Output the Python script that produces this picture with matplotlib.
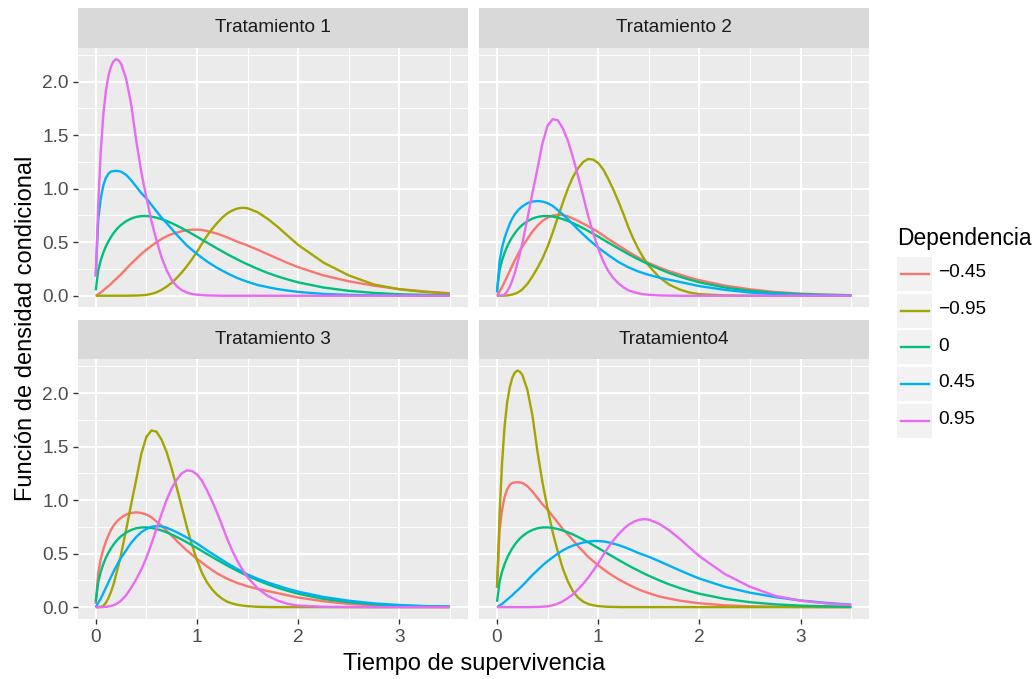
#!/usr/bin/env python3
"""
Densidades condicionales del tiempo de supervivencia por tratamiento y dependencia.
"""

import matplotlib
matplotlib.use('Agg')
import matplotlib.pyplot as plt
from matplotlib.patches import Rectangle
from matplotlib.lines import Line2D

plt.rcParams['font.family'] = ['Liberation Sans', 'DejaVu Sans']

# Tiempo comun a todas las curvas
tiempo = [0.0, 0.025, 0.05, 0.075, 0.1, 0.125, 0.15, 0.175, 0.2, 0.225, 0.25,
          0.3, 0.35, 0.4, 0.45, 0.5, 0.55, 0.6, 0.65, 0.7,
          0.75, 0.8, 0.85, 0.9, 0.95, 1.0, 1.05, 1.1, 1.15, 1.2, 1.25, 1.3, 1.35,
          1.4, 1.45, 1.5,
          1.6, 1.7, 1.8, 1.9, 2.0,
          2.25, 2.5, 2.75, 3.0, 3.25, 3.5]

# Dependencia 0 (igual en los cuatro tratamientos)
dep_0 = [0.05, 0.236, 0.332, 0.402, 0.46, 0.507, 0.548, 0.583, 0.614, 0.64, 0.662,
         0.697, 0.721, 0.737, 0.744, 0.745, 0.74, 0.73, 0.716, 0.699,
         0.679, 0.656, 0.632, 0.606, 0.579, 0.552, 0.524, 0.496, 0.469, 0.441,
         0.415, 0.388, 0.363, 0.339, 0.315, 0.293,
         0.251, 0.213, 0.18, 0.151, 0.125,
         0.077, 0.046, 0.026, 0.014, 0.008, 0.004]

# Tratamiento 1
t1_neg045 = [0.0, 0.015, 0.03, 0.05, 0.07, 0.09, 0.11, 0.135, 0.155, 0.178, 0.2,
             0.25, 0.3, 0.345, 0.39, 0.43, 0.465, 0.5, 0.53, 0.555,
             0.575, 0.59, 0.603, 0.612, 0.617, 0.618, 0.614, 0.605, 0.593, 0.58,
             0.563, 0.545, 0.525, 0.505, 0.488, 0.47,
             0.43, 0.388, 0.346, 0.305, 0.267,
             0.19, 0.135, 0.094, 0.062, 0.04, 0.023]
t1_neg095 = [0, 0, 0, 0, 0, 0, 0, 0, 0, 0, 0,
             0, 0.001, 0.002, 0.004, 0.008, 0.017, 0.032, 0.055, 0.085,
             0.12, 0.166, 0.217, 0.275, 0.34, 0.41, 0.487, 0.56, 0.625, 0.68,
             0.73, 0.77, 0.797, 0.815, 0.822, 0.818,
             0.78, 0.718, 0.642, 0.558, 0.475,
             0.31, 0.19, 0.105, 0.06, 0.035, 0.02]
t1_pos045 = [0.18, 0.71, 0.91, 1.03, 1.1, 1.14, 1.16, 1.165, 1.167, 1.165, 1.16,
             1.13, 1.08, 1.02, 0.96, 0.91, 0.85, 0.79, 0.73, 0.68,
             0.625, 0.57, 0.52, 0.47, 0.43, 0.39, 0.355, 0.32, 0.29, 0.26,
             0.235, 0.21, 0.187, 0.165, 0.147, 0.13,
             0.1, 0.08, 0.062, 0.048, 0.036,
             0.017, 0.008, 0.004, 0.002, 0.001, 0.0]
t1_pos095 = [0.18, 0.86, 1.35, 1.69, 1.91, 2.05, 2.14, 2.19, 2.21, 2.2, 2.17,
             2.03, 1.79, 1.45, 1.16, 0.92, 0.7, 0.52, 0.36, 0.24,
             0.148, 0.09, 0.052, 0.03, 0.017, 0.01, 0.006, 0.003, 0.002, 0.001,
             0, 0, 0, 0, 0, 0,
             0, 0, 0, 0, 0,
             0, 0, 0, 0, 0, 0]

# Tratamiento 2
t2_neg045 = [0.0, 0.04, 0.08, 0.13, 0.18, 0.23, 0.28, 0.33, 0.375, 0.42, 0.46,
             0.53, 0.6, 0.655, 0.7, 0.73, 0.75, 0.758, 0.755, 0.742,
             0.722, 0.7, 0.675, 0.65, 0.623, 0.595, 0.563, 0.53, 0.5, 0.47,
             0.44, 0.41, 0.382, 0.355, 0.33, 0.305,
             0.265, 0.23, 0.2, 0.17, 0.145,
             0.095, 0.06, 0.035, 0.02, 0.01, 0.005]
t2_neg095 = [0, 0, 0, 0.001, 0.003, 0.006, 0.011, 0.018, 0.028, 0.042, 0.06,
             0.11, 0.18, 0.26, 0.35, 0.46, 0.59, 0.73, 0.87, 1.0,
             1.11, 1.19, 1.25, 1.278, 1.272, 1.24, 1.18, 1.09, 0.99, 0.88,
             0.76, 0.635, 0.525, 0.43, 0.35, 0.28,
             0.175, 0.105, 0.06, 0.03, 0.015,
             0.003, 0.001, 0, 0, 0, 0]
t2_pos045 = [0.03, 0.32, 0.45, 0.54, 0.61, 0.67, 0.72, 0.76, 0.79, 0.815, 0.835,
             0.865, 0.88, 0.885, 0.88, 0.865, 0.84, 0.8, 0.76, 0.715,
             0.668, 0.62, 0.575, 0.53, 0.49, 0.45, 0.415, 0.38, 0.347, 0.315,
             0.29, 0.265, 0.245, 0.225, 0.21, 0.195,
             0.17, 0.15, 0.13, 0.11, 0.09,
             0.055, 0.03, 0.016, 0.008, 0.004, 0.002]
t2_pos095 = [0, 0, 0.003, 0.012, 0.04, 0.084, 0.14, 0.21, 0.3, 0.39, 0.49,
             0.72, 0.96, 1.19, 1.43, 1.59, 1.65, 1.64, 1.565, 1.45,
             1.295, 1.12, 0.935, 0.75, 0.585, 0.44, 0.32, 0.23, 0.165, 0.115,
             0.078, 0.05, 0.034, 0.022, 0.014, 0.009,
             0.003, 0.001, 0, 0, 0,
             0, 0, 0, 0, 0, 0]

niveles = ['\u22120.45', '\u22120.95', '0', '0.45', '0.95']
colores = ['#F8766D', '#A3A500', '#00BF7D', '#00B0F6', '#E76BF3']

# Tratamiento 3 y Tratamiento4 son los anteriores con el signo cambiado
paneles = {
    'Tratamiento 1': [t1_neg045, t1_neg095, dep_0, t1_pos045, t1_pos095],
    'Tratamiento 2': [t2_neg045, t2_neg095, dep_0, t2_pos045, t2_pos095],
    'Tratamiento 3': [t2_pos045, t2_pos095, dep_0, t2_neg045, t2_neg095],
    'Tratamiento4': [t1_pos045, t1_pos095, dep_0, t1_neg045, t1_neg095],
}

W, H = 1035, 679
TXT_SMALL = 13.7
TXT_BIG = 17.0
TXT_LEG = 16.4


def fig_rect(x0, y0, x1, y1):
    """Pixel box (top-left origin) -> figure fraction rect."""
    return [x0 / W, 1 - y1 / H, (x1 - x0) / W, (y1 - y0) / H]


cajas = {
    'Tratamiento 1': (78, 47.7, 467.7, 307.3),
    'Tratamiento 2': (479.3, 47.7, 869, 307.3),
    'Tratamiento 3': (78, 359, 467.7, 618.7),
    'Tratamiento4': (479.3, 359, 869, 618.7),
}
alto_tira = 39.4

fig = plt.figure(figsize=(W / 100, H / 100), dpi=100)

for i, (nombre, curvas) in enumerate(paneles.items()):
    x0, y0, x1, y1 = cajas[nombre]
    ax = fig.add_axes(fig_rect(x0, y0, x1, y1))
    ax.set_facecolor('#EBEBEB')
    for s in ax.spines.values():
        s.set_visible(False)

    for k, (dens, col) in enumerate(zip(curvas, colores)):
        ax.plot(tiempo, dens, color=col, lw=1.7, zorder=3 + k,
                solid_capstyle='butt', solid_joinstyle='round')

    ax.set_xlim(-0.175, 3.675)
    ax.set_ylim(-0.108, 2.318)
    ax.set_xticks([0, 1, 2, 3])
    ax.set_xticks([0.5, 1.5, 2.5, 3.5], minor=True)
    ax.set_yticks([0, 0.5, 1.0, 1.5, 2.0])
    ax.set_yticks([0.25, 0.75, 1.25, 1.75, 2.25], minor=True)
    ax.set_xticklabels(['0', '1', '2', '3'])
    ax.set_yticklabels(['0.0', '0.5', '1.0', '1.5', '2.0'])
    ax.set_axisbelow(True)
    ax.grid(which='major', color='white', lw=1.45)
    ax.grid(which='minor', color='white', lw=0.75)
    ax.tick_params(which='minor', length=0)
    ax.tick_params(which='major', length=3.4, width=1.0, color='#333333',
                   labelcolor='#4D4D4D', labelsize=TXT_SMALL)
    ax.tick_params(axis='x', pad=4.3)
    ax.tick_params(axis='y', pad=3.2)

    if i < 2:
        ax.tick_params(axis='x', length=0, labelbottom=False)
    if i % 2 == 1:
        ax.tick_params(axis='y', length=0, labelleft=False)

    # tira con el nombre del tratamiento
    tira = fig.add_axes(fig_rect(x0, y0 - alto_tira, x1, y0))
    tira.set_facecolor('#D9D9D9')
    tira.set_xticks([])
    tira.set_yticks([])
    for s in tira.spines.values():
        s.set_visible(False)
    tira.text(0.5, 0.5, nombre, ha='center', va='center', fontsize=TXT_SMALL,
              color='#1A1A1A', transform=tira.transAxes)

fig.text(473.8 / W, 1 - 664 / H, 'Tiempo de supervivencia', ha='center',
         va='center', fontsize=TXT_BIG)
fig.text(26 / W, 1 - 328 / H, 'Función de densidad condicional', ha='center',
         va='center', rotation=90, fontsize=TXT_BIG)

# Leyenda
fig.text(897.3 / W, 1 - 238 / H, 'Dependencia', ha='left', va='center',
         fontsize=TXT_LEG)
for i, (lab, col) in enumerate(zip(niveles, colores)):
    yc = 274 + 36.7 * i
    fig.add_artist(Rectangle((897.3 / W, 1 - (yc + 17) / H), 34.4 / W, 34 / H,
                             transform=fig.transFigure, facecolor='#F2F2F2',
                             edgecolor='none'))
    fig.add_artist(Line2D([900.5 / W, 928.5 / W], [1 - yc / H, 1 - yc / H],
                          transform=fig.transFigure, color=col, lw=1.7))
    fig.text(938.3 / W, 1 - yc / H + 0.002, lab, ha='left', va='center',
             fontsize=TXT_SMALL)

fig.savefig('out.png', dpi=100)
